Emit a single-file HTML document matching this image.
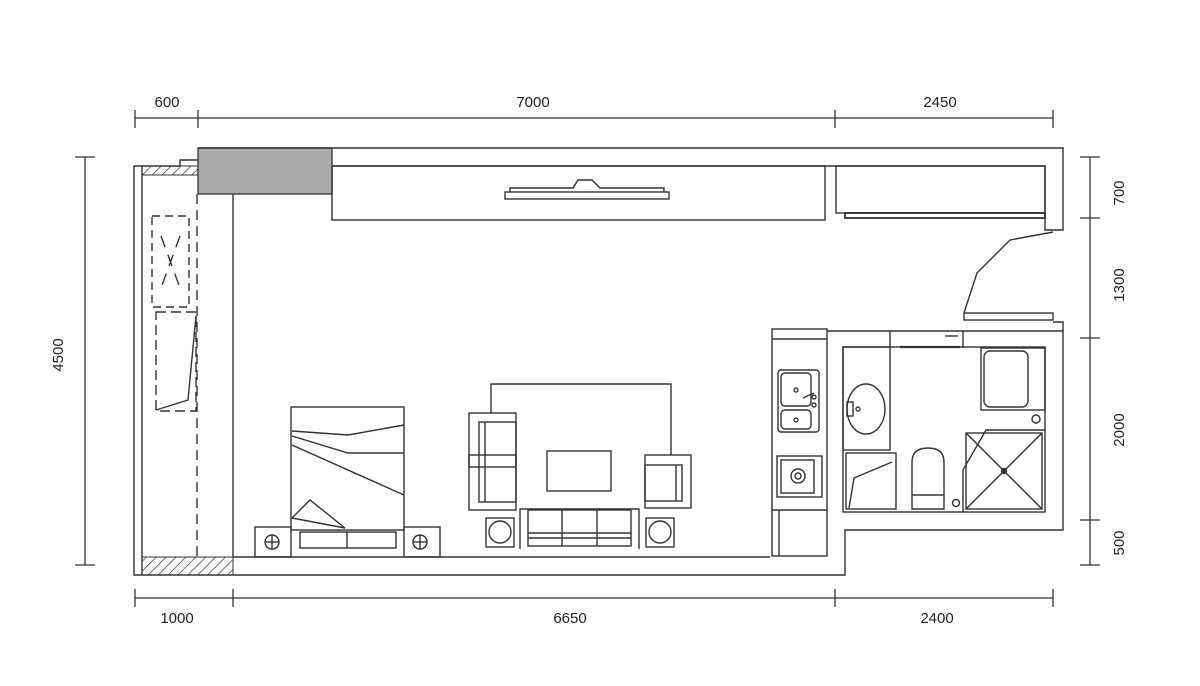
<!DOCTYPE html>
<html><head><meta charset="utf-8"><style>
html,body{margin:0;padding:0;background:#fff;}
svg{display:block;}
text{font-family:"Liberation Sans",sans-serif;font-size:15px;fill:#222;}
</style></head><body>
<svg width="1200" height="686" viewBox="0 0 1200 686" xmlns="http://www.w3.org/2000/svg">
<defs>
<pattern id="h" width="7" height="7" patternUnits="userSpaceOnUse" patternTransform="rotate(45)">
<line x1="0" y1="0" x2="0" y2="7" stroke="#333" stroke-width="1.4"/></pattern>
</defs>
<g stroke="#333" stroke-width="1.3" fill="none">
<line x1="135" y1="118" x2="1053" y2="118"/>
<line x1="135" y1="110" x2="135" y2="128"/><line x1="198" y1="110" x2="198" y2="128"/>
<line x1="835" y1="110" x2="835" y2="128"/><line x1="1053" y1="110" x2="1053" y2="128"/>
<line x1="135" y1="598" x2="1053" y2="598"/>
<line x1="135" y1="589" x2="135" y2="607"/><line x1="233" y1="589" x2="233" y2="607"/>
<line x1="835" y1="589" x2="835" y2="607"/><line x1="1053" y1="589" x2="1053" y2="607"/>
<line x1="85" y1="157" x2="85" y2="565"/>
<line x1="75" y1="157" x2="95" y2="157"/><line x1="75" y1="565" x2="95" y2="565"/>
<line x1="1090" y1="157" x2="1090" y2="565"/>
<line x1="1080" y1="157" x2="1100" y2="157"/><line x1="1080" y1="218" x2="1100" y2="218"/>
<line x1="1080" y1="338" x2="1100" y2="338"/><line x1="1080" y1="520" x2="1100" y2="520"/>
<line x1="1080" y1="565" x2="1100" y2="565"/>
</g>
<text x="167" y="107" text-anchor="middle">600</text>
<text x="533" y="107" text-anchor="middle">7000</text>
<text x="940" y="107" text-anchor="middle">2450</text>
<text x="177" y="623" text-anchor="middle">1000</text>
<text x="570" y="623" text-anchor="middle">6650</text>
<text x="937" y="623" text-anchor="middle">2400</text>
<text transform="translate(63,355) rotate(-90)" text-anchor="middle">4500</text>
<text transform="translate(1124,193) rotate(-90)" text-anchor="middle">700</text>
<text transform="translate(1124,285) rotate(-90)" text-anchor="middle">1300</text>
<text transform="translate(1124,430) rotate(-90)" text-anchor="middle">2000</text>
<text transform="translate(1124,543) rotate(-90)" text-anchor="middle">500</text>

<rect x="142" y="166" width="56" height="9" fill="url(#h)" stroke="#333" stroke-width="1"/>
<rect x="142" y="557" width="91" height="18" fill="url(#h)" stroke="#333" stroke-width="1"/>
<rect x="198" y="148" width="134" height="46" fill="#aaa" stroke="#333" stroke-width="1.3"/>

<g stroke="#333" stroke-width="1.4" fill="none">
<polyline points="198,148 1063,148 1063,230 1045,230 1045,166 332,166"/>
<polyline points="198,160 180,160 180,166 134,166 134,575 845,575 845,530 1063,530 1063,322 1053,322"/>
<line x1="142" y1="166" x2="142" y2="575"/>
<line x1="233" y1="557" x2="770" y2="557"/>
<line x1="233" y1="194" x2="233" y2="557"/>
<line x1="197" y1="194" x2="197" y2="557" stroke-dasharray="10,6"/>
<rect x="332" y="166" width="493" height="54"/>
<rect x="505" y="192" width="164" height="7"/>
<polyline points="510,192 510,188 573,188 578,180 592,180 600,188 664,188 664,192"/>
<rect x="836" y="166" width="209" height="47"/>
<rect x="845" y="213" width="200" height="5" stroke-width="1.8"/>
<polyline points="1053,232 1010,240 977,273 964,313"/>
<rect x="964" y="313" width="89" height="7"/>
<rect x="152" y="216" width="37" height="91" stroke-dasharray="8,5"/>
<line x1="161" y1="236" x2="180" y2="288" stroke-dasharray="12,8"/>
<line x1="180" y1="236" x2="161" y2="288" stroke-dasharray="12,8"/>
<rect x="156" y="312" width="40" height="99" stroke-dasharray="10,5"/>
<polyline points="196,316 188,400 156,410"/>
<rect x="291" y="407" width="113" height="123"/>
<polyline points="292,431 348,435 404,425"/>
<polyline points="292,436 348,453 404,453"/>
<line x1="292" y1="445" x2="404" y2="495"/>
<polyline points="292,518 310,500 345,528 292,518"/>
<rect x="255" y="527" width="36" height="30"/>
<rect x="404" y="527" width="36" height="30"/>
<circle cx="272" cy="542" r="7"/><line x1="265" y1="542" x2="279" y2="542"/><line x1="272" y1="535" x2="272" y2="549"/>
<circle cx="420" cy="542" r="7"/><line x1="413" y1="542" x2="427" y2="542"/><line x1="420" y1="535" x2="420" y2="549"/>
<rect x="300" y="532" width="96" height="16"/><line x1="347" y1="532" x2="347" y2="548"/>
<polyline points="491,413 491,384 671,384 671,455"/>
<rect x="469" y="413" width="47" height="97"/>
<rect x="479" y="422" width="37" height="80"/>
<line x1="485" y1="422" x2="485" y2="502"/>
<rect x="469" y="455" width="47" height="12"/>
<rect x="645" y="455" width="46" height="53"/>
<rect x="645" y="465" width="37" height="36"/>
<line x1="676" y1="465" x2="676" y2="501"/>
<rect x="547" y="451" width="64" height="40"/>
<polyline points="520,549 520,509 639,509 639,549"/>
<rect x="528" y="510" width="103" height="36"/>
<line x1="562" y1="510" x2="562" y2="546"/><line x1="597" y1="510" x2="597" y2="546"/>
<line x1="528" y1="533" x2="631" y2="533"/><line x1="528" y1="538" x2="631" y2="538"/>
<rect x="486" y="518" width="28" height="29"/><circle cx="500" cy="532" r="11"/>
<rect x="646" y="518" width="28" height="29"/><circle cx="660" cy="532" r="11"/>
<rect x="772" y="329" width="55" height="227"/>
<line x1="772" y1="339" x2="827" y2="339"/>
<line x1="772" y1="510" x2="827" y2="510"/>
<line x1="779" y1="510" x2="779" y2="556"/>
<rect x="778" y="370" width="41" height="62" rx="3"/>
<rect x="781" y="373" width="30" height="33" rx="4"/>
<rect x="781" y="410" width="30" height="19" rx="4"/>
<circle cx="796" cy="390" r="2"/><circle cx="796" cy="420" r="2"/>
<circle cx="814" cy="397" r="2"/><circle cx="814" cy="405" r="2"/><line x1="803" y1="398" x2="814" y2="393"/>
<rect x="777" y="456" width="45" height="41"/>
<rect x="781" y="460" width="33" height="33"/>
<circle cx="798" cy="476" r="7"/><circle cx="798" cy="476" r="3"/>
<line x1="827" y1="331" x2="890" y2="331"/>
<polyline points="890,331 1063,331"/>
<line x1="890" y1="331" x2="890" y2="348"/>
<line x1="963" y1="331" x2="963" y2="348"/>
<line x1="945" y1="336" x2="958" y2="336"/>
<line x1="900" y1="347" x2="960" y2="347" stroke-width="2.2"/>
<rect x="843" y="347" width="202" height="165"/>
<rect x="843" y="347" width="47" height="103"/>
<ellipse cx="866" cy="409" rx="19" ry="25"/>
<circle cx="858" cy="409" r="2"/><rect x="847" y="402" width="6" height="14"/>
<rect x="846" y="453" width="50" height="56"/>
<polyline points="849,508 854,478 892,462"/>
<path d="M912,509 L912,462 Q912,448 928,448 Q944,448 944,462 L944,509 Z"/>
<line x1="912" y1="495" x2="944" y2="495"/>
<circle cx="956" cy="503" r="3.5"/>
<rect x="981" y="348" width="64" height="62"/>
<rect x="984" y="351" width="44" height="56" rx="6"/>
<circle cx="1036" cy="419" r="4"/>
<polyline points="963,512 963,470 986,430 1045,430"/>
<rect x="966" y="433" width="76" height="76"/>
<line x1="966" y1="433" x2="1042" y2="509"/><line x1="1042" y1="433" x2="966" y2="509"/>
<circle cx="1004" cy="471" r="2.5" fill="#333"/>
</g>
</svg>
</body></html>
